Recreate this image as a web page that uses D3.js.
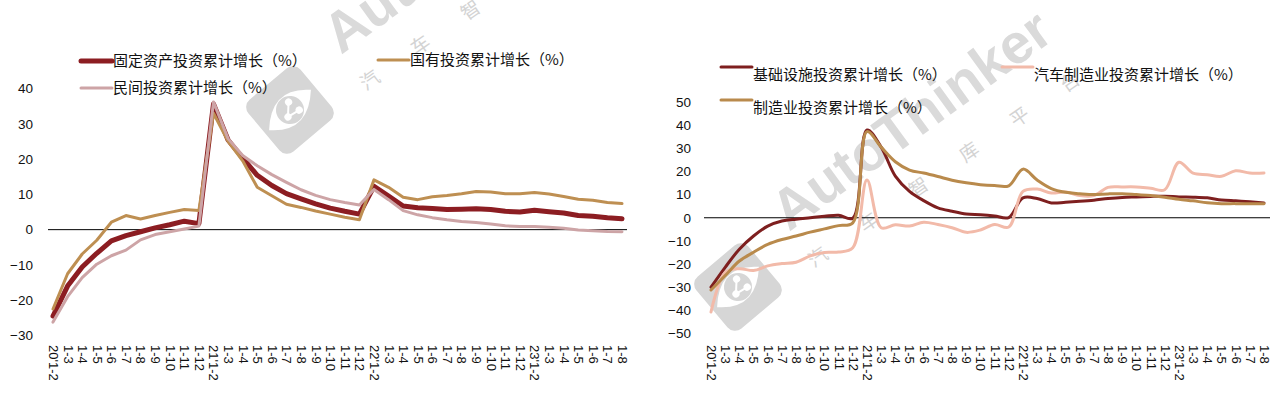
<!DOCTYPE html>
<html>
<head>
<meta charset="utf-8">
<script src="https://cdn.jsdelivr.net/npm/d3@7"></script>
<style>
body { margin: 0; background: #fff; }
text { font-family: "Liberation Sans", Arial, sans-serif; }
.cn { font-family: "Noto Sans CJK SC", sans-serif; }
</style>
</head>
<body>
<script>
var w = 1288;
var h = 396;

// x tick labels, 2020 1-2 .. 2023 1-8
var labels = ["20'1-2","1-3","1-4","1-5","1-6","1-7","1-8","1-9","1-10","1-11","1-12",
  "21'1-2","1-3","1-4","1-5","1-6","1-7","1-8","1-9","1-10","1-11","1-12",
  "22'1-2","1-3","1-4","1-5","1-6","1-7","1-8","1-9","1-10","1-11","1-12",
  "23'1-2","1-3","1-4","1-5","1-6","1-7","1-8"];

// left chart
var fixedAsset = [-24.5,-16.0,-10.6,-6.7,-3.2,-1.7,-0.6,0.5,1.4,2.4,1.7,
  35.6,25.4,20.3,15.4,12.5,10.2,8.7,7.3,6.1,5.2,4.4,
  12.3,9.5,6.7,6.2,6.0,5.7,5.8,5.9,5.7,5.2,5.0,
  5.5,5.1,4.7,4.0,3.8,3.4,3.1];
var stateOwned = [-22.5,-12.5,-6.9,-3.0,2.1,4.0,3.0,4.0,4.9,5.7,5.4,
  33.0,25.0,19.5,12.0,9.6,7.2,6.3,5.3,4.4,3.5,2.8,
  14.1,12.0,9.2,8.5,9.3,9.7,10.2,10.8,10.7,10.2,10.2,
  10.5,10.1,9.4,8.6,8.3,7.7,7.4];
var privateInv = [-26.2,-19.0,-13.6,-9.8,-7.4,-5.8,-2.9,-1.4,-0.6,0.2,1.0,
  36.2,25.8,21.0,18.1,15.6,13.4,11.3,9.7,8.5,7.7,7.0,
  11.4,8.5,5.4,4.2,3.4,2.8,2.3,2.0,1.6,1.1,0.9,
  0.9,0.7,0.4,-0.1,-0.3,-0.5,-0.6];
var leftTicks = [-30,-20,-10,0,10,20,30,40];

// right chart
var infra = [-30.0,-21.4,-13.6,-7.9,-3.6,-1.4,-0.6,0.0,0.6,1.1,-0.2,
  37.9,30.5,18.0,11.4,7.4,4.3,2.8,1.6,1.3,0.8,0.1,
  8.6,8.3,6.4,6.7,7.1,7.6,8.3,8.8,9.0,9.2,9.3,
  9.0,8.9,8.6,7.7,7.3,6.9,6.4];
var autoMfg = [-40.7,-23.6,-22.0,-22.8,-20.8,-19.8,-19.2,-16.5,-15.0,-14.8,-13.0,
  16.3,-4.3,-3.0,-3.6,-1.9,-2.9,-4.3,-6.3,-5.3,-2.9,-4.0,
  11.4,12.4,10.7,11.1,9.6,9.6,13.1,13.3,13.3,12.7,12.1,
  24.0,19.3,18.6,17.9,20.3,19.3,19.3];
var manuf = [-31.2,-25.0,-18.7,-14.9,-11.5,-9.4,-7.9,-6.2,-4.8,-3.4,-2.2,
  37.2,30.5,24.2,20.6,19.3,17.8,16.2,15.1,14.3,13.9,13.8,
  21.0,16.3,12.6,11.0,10.4,10.0,10.3,10.4,10.0,9.6,8.9,
  8.0,7.3,6.5,6.1,6.1,6.0,6.1];
var rightTicks = [-50,-40,-30,-20,-10,0,10,20,30,40,50];

var idx = d3.range(labels.length);

var svg = d3.select("body").append("svg")
  .attr("width", w)
  .attr("height", h);

// watermark (drawn first, lines go over it)
var markChars = ["汽","车","智","库","平","台"];
function drawMark(cx, cy) {
  var g = svg.append("g").attr("transform", "translate(" + cx + "," + cy + ")");
  var logo = g.append("g").attr("transform", "rotate(-40)");
  logo.append("rect").attr("x", -34).attr("y", -34).attr("width", 68).attr("height", 68)
    .attr("rx", 10).attr("fill", "#d6d6d6");
  logo.append("path").attr("d", "M-29,2 Q0,-30 29,-2 Q0,30 -29,2 Z").attr("fill", "#fff");
  logo.append("circle").attr("r", 14).attr("fill", "#d6d6d6");
  var dots = [[-6,4],[4,-7],[7,6]];
  logo.append("path").attr("d", "M-6,4 L4,-7 M-6,4 L7,6")
    .attr("stroke", "#fff").attr("stroke-width", 2);
  logo.selectAll("circle.dot").data(dots).enter().append("circle")
    .attr("class", "dot")
    .attr("cx", function(d) { return d[0]; })
    .attr("cy", function(d) { return d[1]; })
    .attr("r", 3.6).attr("fill", "#fff");
  g.append("text")
    .attr("transform", "translate(51,-55) rotate(-36)")
    .attr("font-size", "56px").attr("font-weight", "bold")
    .attr("fill", "#dadada").text("AutoThinker");
  g.selectAll("text.mc").data(markChars).enter().append("text")
    .attr("class", "mc cn")
    .attr("transform", function(d, i) {
      return "translate(" + (80 + i * 50.4) + "," + (-30 - i * 35) + ") rotate(-35)";
    })
    .attr("text-anchor", "middle").attr("dy", "0.35em")
    .attr("font-size", "19px").attr("fill", "#d3d3d3")
    .text(function(d) { return d; });
}
drawMark(290, 110);
drawMark(738, 287);

function makePanel(opt) {
  var x = d3.scalePoint().domain(idx).range(opt.xr);
  var y = d3.scaleLinear().domain(opt.yd).range(opt.yr);
  var g = svg.append("g");

  var ya = g.append("g")
    .attr("transform", "translate(" + opt.yx + ",0)")
    .call(d3.axisLeft(y).tickValues(opt.ticks).tickSize(0).tickPadding(0));
  ya.select(".domain").remove();
  ya.selectAll("text").attr("font-size", "13.5px").attr("fill", "#111")
    .style("font-family", "'Liberation Sans', Arial, sans-serif");

  g.append("line")
    .attr("x1", opt.zx[0]).attr("x2", opt.zx[1])
    .attr("y1", y(0)).attr("y2", y(0))
    .attr("stroke", "#000").attr("stroke-width", 1);

  var xa = g.append("g")
    .attr("transform", "translate(0,345)")
    .call(d3.axisBottom(x).tickSize(0).tickFormat(function(i) { return labels[i]; }));
  xa.select(".domain").remove();
  xa.selectAll("text")
    .attr("x", 0).attr("y", 0).attr("dy", "0.35em")
    .attr("transform", "rotate(90)")
    .style("text-anchor", "start")
    .style("font-family", "'Liberation Sans', Arial, sans-serif")
    .attr("font-size", "13px").attr("fill", "#111");

  var line = d3.line()
    .x(function(d, i) { return x(i); })
    .y(function(d) { return y(d); })
    .curve(opt.curve);

  opt.series.forEach(function(s) {
    g.append("path").datum(s.values)
      .attr("d", line)
      .attr("fill", "none")
      .attr("stroke", s.color)
      .attr("stroke-width", s.width)
      .attr("stroke-linejoin", "round")
      .attr("stroke-linecap", "round");
  });

  opt.legend.forEach(function(l) {
    var s = opt.series[l.s];
    g.append("line")
      .attr("x1", l.x).attr("x2", l.x + 31)
      .attr("y1", l.y).attr("y2", l.y)
      .attr("stroke", s.color).attr("stroke-width", s.width)
      .attr("stroke-linecap", "round");
    g.append("text").attr("class", "cn")
      .attr("x", l.x + 32).attr("y", l.y + l.dy).attr("dy", "0.35em")
      .attr("font-size", "15px").attr("fill", "#111")
      .text(s.name);
  });
}

makePanel({
  xr: [53, 622], yd: [-30, 40], yr: [335.5, 88.5], yx: 33, zx: [48, 627],
  ticks: leftTicks, curve: d3.curveLinear,
  series: [
    {name: "固定资产投资累计增长（%）", values: fixedAsset, color: "#8c1d22", width: 5},
    {name: "国有投资累计增长（%）", values: stateOwned, color: "#be8f52", width: 3},
    {name: "民间投资累计增长（%）", values: privateInv, color: "#cda4a6", width: 3}
  ],
  legend: [{s: 0, x: 81, y: 61, dy: 0}, {s: 1, x: 378, y: 60, dy: 0}, {s: 2, x: 81, y: 88, dy: 0}]
});

makePanel({
  xr: [711, 1264], yd: [-50, 50], yr: [333.5, 102], yx: 691, zx: [704, 1270],
  ticks: rightTicks, curve: d3.curveCatmullRom.alpha(0.5),
  series: [
    {name: "基础设施投资累计增长（%）", values: infra, color: "#7e1f1f", width: 3},
    {name: "汽车制造业投资累计增长（%）", values: autoMfg, color: "#f2baa9", width: 3},
    {name: "制造业投资累计增长（%）", values: manuf, color: "#b98a4c", width: 3}
  ],
  legend: [{s: 0, x: 721, y: 67, dy: 8}, {s: 1, x: 1002, y: 67, dy: 8}, {s: 2, x: 721, y: 100, dy: 8}]
});
</script>
</body>
</html>
